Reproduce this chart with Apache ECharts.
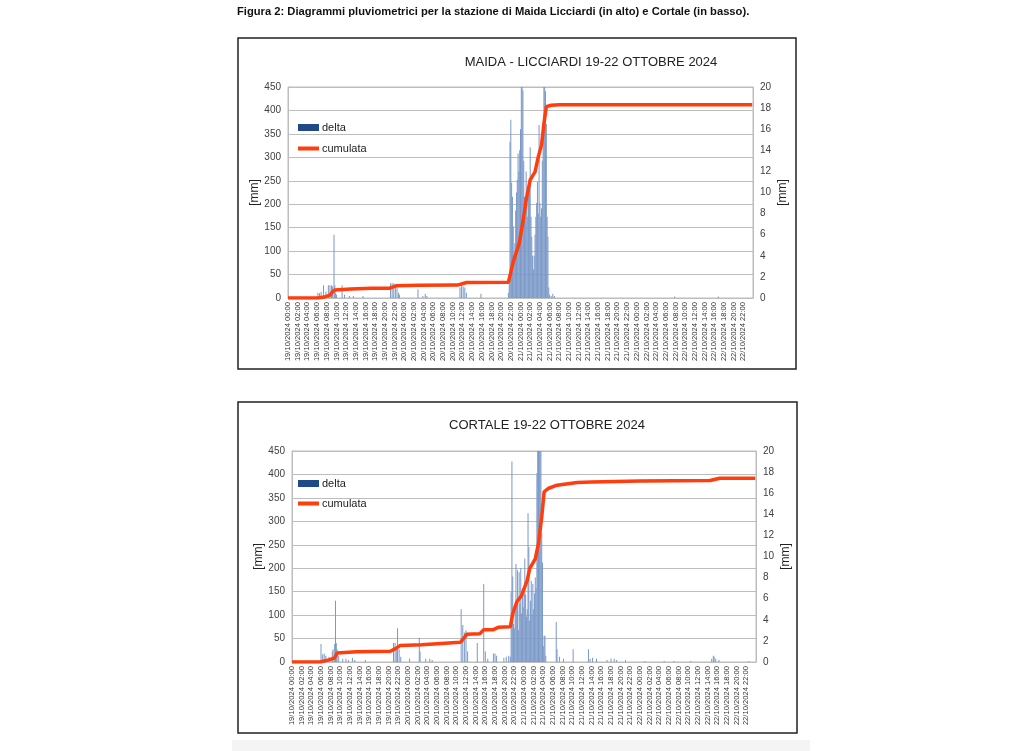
<!DOCTYPE html>
<html>
<head>
<meta charset="utf-8">
<script src="https://cdn.jsdelivr.net/npm/echarts@6/dist/echarts.min.js"></script>
<style>
html,body{margin:0;padding:0;background:#fff;}
#chart{width:1024px;height:751px;}
</style>
</head>
<body>
<div id="chart"></div>
<script>
// ---------- DATA ----------
const dayLabels = ['19/10/2024', '20/10/2024', '21/10/2024', '22/10/2024'];
const captionText = 'Figura 2: Diagrammi pluviometrici per la stazione di Maida Licciardi (in alto) e Cortale (in basso).';
const titleMaida = 'MAIDA - LICCIARDI 19-22 OTTOBRE 2024';
const titleCortale = 'CORTALE 19-22 OTTOBRE 2024';

// delta (10-minute rainfall, right axis) : [day hh:mm, mm]
const maidaDelta = [
  ['19 06:10',0.5],['19 06:30',0.45],['19 06:50',0.6],['19 07:20',1.2],['19 07:50',0.6],['19 08:20',1.2],
  ['19 08:40',1.2],['19 09:00',1.2],['19 09:10',1.1],['19 09:30',6.0],['19 09:40',1.2],['19 09:50',0.5],
  ['19 10:00',0.3],['19 11:10',1.2],['19 11:40',0.3],['19 12:40',0.2],['19 13:30',0.2],['19 15:30',0.2],
  ['19 21:10',1.4],['19 21:30',1.4],['19 21:50',1.4],['19 22:10',1.3],['19 22:30',1.0],['19 22:50',0.5],['19 23:00',0.3],
  ['20 02:50',0.8],['20 03:50',0.2],['20 04:20',0.4],['20 04:40',0.2],
  ['20 11:30',1.0],['20 11:50',1.4],['20 12:10',1.1],['20 12:30',1.0],['20 12:50',0.5],['20 15:50',0.4],
  ['20 21:30',0.5],['20 21:40',2.0],['20 21:50',14.8],['20 22:00',16.9],['20 22:10',10.9],['20 22:20',9.6],
  ['20 22:30',6.8],['20 22:40',4.0],['20 22:50',5.2],['20 23:00',8.3],['20 23:10',10.0],['20 23:20',11.2],
  ['20 23:30',13.7],['20 23:40',12.0],['20 23:50',14.0],['21 00:00',16.0],['21 00:10',20],['21 00:20',20],
  ['21 00:30',19.7],['21 00:40',13.0],['21 00:50',9.6],['21 01:00',7.7],['21 01:10',12.0],['21 01:20',9.5],
  ['21 01:30',7.7],['21 01:40',10.0],['21 01:50',11.0],['21 02:00',14.3],['21 02:10',7.7],['21 02:20',5.8],
  ['21 02:30',4.0],['21 02:40',2.7],['21 02:50',4.0],['21 03:00',6.0],['21 03:10',7.7],['21 03:20',9.0],
  ['21 03:30',11.0],['21 03:40',8.0],['21 03:50',16.4],['21 04:00',9.0],['21 04:10',7.7],['21 04:20',8.5],
  ['21 04:30',13.0],['21 04:40',16.0],['21 04:50',20],['21 05:00',20],['21 05:10',19.6],['21 05:20',16.5],
  ['21 05:30',7.7],['21 05:40',5.8],['21 05:50',1.0],['21 06:00',0.3],['21 06:20',0.2],['21 06:40',0.4],
  ['21 07:00',0.2],['22 07:50',0.15],['22 16:50',0.15]
];
// cumulata (left axis, mm)
const maidaCum = [
  ['19 00:00',0],['19 06:10',0],['19 07:30',2],['19 08:40',6],['19 09:10',13],['19 09:40',17],['19 13:00',19],
  ['19 17:10',21],['19 21:00',21],['19 22:20',26],['20 02:50',27],['20 11:00',27.5],['20 12:50',33],
  ['20 21:30',33.5],['20 22:30',77],['20 23:45',117],['21 00:40',173],['21 01:10',209],['21 02:00',252],
  ['21 03:00',269],['21 03:40',301],['21 04:20',326],['21 04:50',372],['21 05:20',408],['21 06:20',411],
  ['21 08:00',412],['22 23:50',412]
];

const cortaleDelta = [
  ['19 06:00',1.7],['19 06:20',0.7],['19 06:40',0.8],['19 07:00',0.6],['19 07:40',0.5],['19 08:20',1.0],
  ['19 08:30',1.2],['19 08:50',1.7],['19 09:00',5.8],['19 09:10',1.8],['19 09:20',1.2],['19 09:40',0.6],
  ['19 10:30',0.3],['19 11:10',0.3],['19 11:40',0.2],['19 12:30',0.4],['19 13:00',0.2],['19 15:10',0.2],
  ['19 21:00',1.8],['19 21:20',1.8],['19 21:40',1.5],['19 21:50',3.2],['19 22:10',1.2],['19 22:30',0.5],
  ['20 00:20',0.3],['20 02:20',2.3],['20 02:30',1.0],['20 03:40',0.3],['20 04:30',0.3],['20 05:00',0.2],
  ['20 11:00',5.0],['20 11:20',3.5],['20 11:40',2.8],['20 12:00',3.0],['20 12:20',1.0],['20 14:20',1.8],
  ['20 15:40',7.4],['20 16:00',1.0],['20 16:30',0.3],['20 17:40',0.8],['20 18:00',0.8],['20 18:20',0.6],
  ['20 19:50',0.4],['20 20:20',0.5],['20 20:50',0.6],['20 21:10',0.5],
  ['20 21:20',6.6],['20 21:30',19.0],['20 21:40',8.1],['20 21:50',3.6],['20 22:00',3.2],['20 22:10',5.0],
  ['20 22:20',9.3],['20 22:30',6.0],['20 22:40',8.7],['20 22:50',3.0],['20 23:00',8.5],['20 23:10',5.5],
  ['20 23:20',8.9],['20 23:30',4.6],['20 23:40',7.0],['20 23:50',5.2],['21 00:00',6.5],['21 00:10',9.8],
  ['21 00:20',6.4],['21 00:30',4.3],['21 00:40',5.0],['21 00:50',14.1],['21 01:00',10.9],['21 01:10',3.9],
  ['21 01:20',5.8],['21 01:30',7.7],['21 01:40',4.5],['21 01:50',7.4],['21 02:00',5.0],['21 02:10',6.5],
  ['21 02:20',8.0],['21 02:30',7.0],['21 02:40',17.9],['21 02:50',20],['21 03:00',20],['21 03:10',20],
  ['21 03:20',20],['21 03:30',20],['21 03:40',12.2],['21 03:50',9.4],['21 04:00',1.5],['21 04:10',2.5],
  ['21 04:20',2.5],['21 04:30',0.6],['21 06:40',3.8],['21 06:50',1.2],['21 07:20',0.5],['21 08:10',0.3],
  ['21 10:10',1.2],['21 13:20',1.2],['21 13:40',0.3],['21 14:10',0.4],['21 15:00',0.3],['21 17:10',0.2],
  ['21 18:00',0.3],['21 18:40',0.3],['21 19:10',0.2],['21 21:00',0.2],['22 01:00',0.1],['22 05:00',0.1],
  ['22 07:00',0.1],['22 10:30',0.1],['22 14:50',0.3],['22 15:10',0.6],['22 15:20',0.5],['22 15:40',0.3],
  ['22 16:20',0.2],['22 22:30',0.1]
];
const cortaleCum = [
  ['19 00:00',0],['19 05:50',0],['19 06:10',1.5],['19 07:50',5],['19 08:50',9],['19 09:20',19],['19 13:20',22],
  ['19 20:20',23],['19 21:20',28],['19 22:20',35],['20 02:50',37],['20 10:50',42],['20 11:20',48],
  ['20 12:10',59],['20 14:50',60],['20 15:40',69],['20 17:40',69],['20 18:40',74],['20 21:10',75],
  ['20 21:40',103],['20 22:30',128],['20 23:30',142],['21 00:40',174],['21 01:10',199],['21 02:20',220],
  ['21 03:00',253],['21 03:40',309],['21 04:10',363],['21 05:00',370],['21 06:50',377],['21 11:00',383],
  ['21 14:00',384],['22 00:00',386],['22 14:30',387],['22 16:30',392],['22 23:50',392]
];

// ---------- BUILD ----------
function toHours(s) {
  const d = parseInt(s.slice(0, 2), 10), hh = parseInt(s.slice(3, 5), 10), mm = parseInt(s.slice(6, 8), 10);
  return (d - 19) * 24 + hh + mm / 60;
}
const conv = arr => arr.map(p => [toHours(p[0]), p[1]]);

const FONT = "'Liberation Sans', Arial, sans-serif";
const BAR_COLOR = '#7a99c8';
const BAR_LEGEND = '#1f4a87';
const LINE_COLOR = '#ff3d0d';
const GRID_COLOR = '#bdbdbd';

function xAxisCfg(gi) {
  return {
    gridIndex: gi, type: 'value', min: 0, max: 96, interval: 2,
    axisLine: { show: true, lineStyle: { color: GRID_COLOR } },
    axisTick: { show: false },
    splitLine: { show: false },
    axisLabel: {
      rotate: 90, fontSize: 7.6, color: '#333', fontFamily: FONT, margin: 4,
      formatter: function (v) {
        if (v >= 96) return '';
        const d = Math.floor(v / 24), h = v % 24;
        return dayLabels[d] + ' ' + (h < 10 ? '0' : '') + h + ':00';
      }
    }
  };
}
function yLeft(gi) {
  return {
    gridIndex: gi, type: 'value', min: 0, max: 450, interval: 50, position: 'left',
    name: '[mm]', nameLocation: 'middle', nameRotate: 90, nameGap: 27,
    nameTextStyle: { fontSize: 12, color: '#222', fontFamily: FONT },
    axisLine: { show: true, lineStyle: { color: GRID_COLOR } },
    axisTick: { show: false },
    splitLine: { show: true, lineStyle: { color: GRID_COLOR, width: 1 } },
    axisLabel: { fontSize: 10, color: '#404040', fontFamily: FONT, margin: 7 }
  };
}
function yRight(gi) {
  return {
    gridIndex: gi, type: 'value', min: 0, max: 20, interval: 2, position: 'right',
    name: '[mm]', nameLocation: 'middle', nameRotate: 90, nameGap: 24,
    nameTextStyle: { fontSize: 12, color: '#222', fontFamily: FONT },
    axisLine: { show: true, lineStyle: { color: GRID_COLOR } },
    axisTick: { show: false },
    splitLine: { show: false },
    axisLabel: { fontSize: 10, color: '#404040', fontFamily: FONT, margin: 7 }
  };
}
function barSeries(name, data, xi, yi) {
  return {
    name: name, type: 'bar', xAxisIndex: xi, yAxisIndex: yi, data: conv(data),
    barWidth: 1, itemStyle: { color: BAR_COLOR }, clip: true, z: 2
  };
}
function lineSeries(name, data, xi, yi) {
  return {
    name: name, type: 'line', xAxisIndex: xi, yAxisIndex: yi, data: conv(data),
    symbol: 'none', showSymbol: false, lineStyle: { color: LINE_COLOR, width: 3.5 },
    itemStyle: { color: LINE_COLOR }, z: 3
  };
}
function legendItem(name, top, h, color) {
  return {
    orient: 'vertical', left: 298, top: top, padding: 0, itemWidth: 21, itemHeight: h,
    textStyle: { fontSize: 11, color: '#222', fontFamily: FONT, padding: [0, 0, 0, -2] },
    data: [{ name: name, icon: 'rect', itemStyle: { color: color } }]
  };
}

const chart = echarts.init(document.getElementById('chart'), null, { renderer: 'canvas' });
chart.setOption({
  animation: false,
  backgroundColor: '#fff',
  title: [
    { text: captionText, left: 237, top: 6, padding: 0,
      textStyle: { fontSize: 11.2, fontWeight: 'bold', color: '#111', fontFamily: "'Liberation Sans Narrow', 'Arial Narrow', " + FONT } },
    { text: titleMaida, left: 586, top: 51, textAlign: 'center',
      textStyle: { fontSize: 13, fontWeight: 'normal', color: '#222', fontFamily: FONT } },
    { text: titleCortale, left: 542, top: 414, textAlign: 'center',
      textStyle: { fontSize: 13, fontWeight: 'normal', color: '#222', fontFamily: FONT } }
  ],
  legend: [
    legendItem('delta', 122, 7, BAR_LEGEND),
    legendItem('cumulata', 143, 4, LINE_COLOR),
    legendItem('delta', 478, 7, BAR_LEGEND),
    legendItem('cumulata', 498, 4, LINE_COLOR)
  ],
  grid: [
    { left: 288, top: 87, width: 465, height: 211, show: true, borderColor: GRID_COLOR, borderWidth: 1, backgroundColor: '#fff' },
    { left: 292, top: 451, width: 464, height: 211, show: true, borderColor: GRID_COLOR, borderWidth: 1, backgroundColor: '#fff' }
  ],
  xAxis: [xAxisCfg(0), xAxisCfg(1)],
  yAxis: [yLeft(0), yRight(0), yLeft(1), yRight(1)],
  series: [
    barSeries('delta', maidaDelta, 0, 1),
    lineSeries('cumulata', maidaCum, 0, 0),
    barSeries('delta', cortaleDelta, 1, 3),
    lineSeries('cumulata', cortaleCum, 1, 2)
  ],
  graphic: [
    { type: 'rect', shape: { x: 238, y: 38, width: 558, height: 331 }, style: { fill: 'none', stroke: '#222', lineWidth: 1.5 }, z: 10 },
    { type: 'rect', shape: { x: 238, y: 402, width: 559, height: 331 }, style: { fill: 'none', stroke: '#222', lineWidth: 1.5 }, z: 10 },
    { type: 'rect', shape: { x: 232, y: 740, width: 578, height: 11 }, style: { fill: '#f4f4f4' }, z: 0 }
  ]
});
</script>
</body>
</html>
